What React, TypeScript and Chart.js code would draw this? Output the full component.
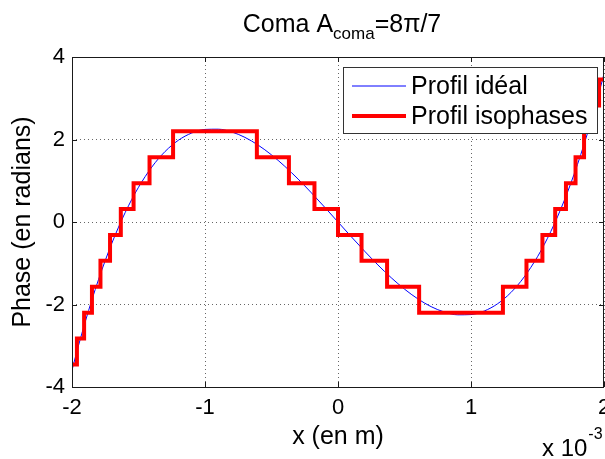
import { useEffect, useRef } from "react";
import { Chart, registerables } from "chart.js";

Chart.register(...registerables);

// Ideal coma profile (x in units of 1e-3 m, phase in rad)
const idealX = [
  -2.0, -1.95, -1.9, -1.85, -1.8, -1.75, -1.7, -1.65, -1.6, -1.55, -1.5, -1.4, -1.3, -1.2, -1.1, -1.0,
  -0.9, -0.8, -0.7, -0.6, -0.5, -0.4, -0.3, -0.2, -0.1, 0,
  0.1, 0.2, 0.3, 0.4, 0.5, 0.6, 0.7, 0.8, 0.9, 1.0, 1.1, 1.2, 1.3, 1.4, 1.5, 1.55, 1.6, 1.65, 1.7, 1.75,
  1.8, 1.85, 1.9, 1.95, 2.0,
];
const idealY = [
  -3.59, -2.982, -2.413, -1.883, -1.39, -0.933, -0.511, -0.124, 0.23, 0.551, 0.842, 1.332, 1.71, 1.982, 2.157, 2.244,
  2.25, 2.183, 2.052, 1.863, 1.627, 1.35, 1.041, 0.707, 0.358, 0,
  -0.358, -0.707, -1.041, -1.35, -1.627, -1.863, -2.052, -2.183, -2.25, -2.244, -2.157, -1.982, -1.71, -1.332, -0.842, -0.551, -0.23, 0.124, 0.511, 0.933,
  1.39, 1.883, 2.413, 2.982, 3.59,
];

// Isophase staircase: plateau edges and plateau levels
const stairEdges = [
  -2.0, -1.963, -1.909, -1.85, -1.786, -1.714, -1.633, -1.537, -1.417, -1.24, -0.61, -0.369, -0.177, 0,
  0.177, 0.369, 0.61, 1.24, 1.417, 1.537, 1.633, 1.714, 1.786, 1.85, 1.909, 1.963, 2.0,
];
const stairLevels = [
  -3.456, -2.827, -2.199, -1.571, -0.942, -0.314, 0.314, 0.942, 1.571, 2.199, 1.571, 0.942, 0.314,
  -0.314, -0.942, -1.571, -2.199, -1.571, -0.942, -0.314, 0.314, 0.942, 1.571, 2.199, 2.827, 3.456,
];

const xTicks = [-2, -1, 0, 1, 2];
const yTicks = [-4, -2, 0, 2, 4];
const titleMain = "Coma A";
const titleSub = "coma";
const titleEnd = "=8\u03c0/7";
const xLabel = "x (en m)";
const yLabel = "Phase (en radians)";
const xMultiplier = "x 10";
const xExponent = "-3";
const legendLabels = ["Profil idéal", "Profil isophases"];
const seriesColors = ["#0000ff", "#ff0000"];

const FONT = '"Liberation Sans", Arial, Helvetica, sans-serif';

const decorPlugin = {
  id: "decor",
  afterDatasetsDraw(chart: any) {
    const { ctx, chartArea } = chart;
    const { left, right, top, bottom } = chartArea;
    const xs = chart.scales.x;
    const ys = chart.scales.y;
    ctx.save();
    ctx.strokeStyle = "#1a1a1a";
    ctx.lineWidth = 1;
    ctx.setLineDash([]);
    ctx.strokeRect(Math.round(left) + 0.5, Math.round(top) + 0.5, Math.round(right - left) - 1, Math.round(bottom - top));
    const tl = 5;
    ctx.beginPath();
    xTicks.forEach((v) => {
      const px = Math.round(xs.getPixelForValue(v)) + 0.5;
      ctx.moveTo(px, bottom);
      ctx.lineTo(px, bottom - tl);
      ctx.moveTo(px, top);
      ctx.lineTo(px, top + tl);
    });
    yTicks.forEach((v) => {
      const py = Math.round(ys.getPixelForValue(v)) + 0.5;
      ctx.moveTo(left, py);
      ctx.lineTo(left + tl, py);
      ctx.moveTo(right, py);
      ctx.lineTo(right - tl, py);
    });
    ctx.stroke();
    ctx.restore();
  },
  afterDraw(chart: any) {
    const { ctx, chartArea } = chart;
    ctx.save();
    ctx.fillStyle = "#000";
    ctx.textBaseline = "alphabetic";
    ctx.textAlign = "left";
    // Title
    ctx.font = `25px ${FONT}`;
    const w1 = ctx.measureText(titleMain).width;
    const w3 = ctx.measureText(titleEnd).width;
    ctx.font = `17px ${FONT}`;
    const w2 = ctx.measureText(titleSub).width;
    const cx = (chartArea.left + chartArea.right) / 2 + 4;
    let tx = cx - (w1 + w2 + w3) / 2;
    const tb = 32;
    ctx.font = `25px ${FONT}`;
    ctx.fillText(titleMain, tx, tb);
    tx += w1;
    ctx.font = `17px ${FONT}`;
    ctx.fillText(titleSub, tx, tb + 7);
    tx += w2;
    ctx.font = `25px ${FONT}`;
    ctx.fillText(titleEnd, tx, tb);

    // x 10^-3
    ctx.font = `24px ${FONT}`;
    const mx = 542;
    ctx.fillText(xMultiplier, mx, 456);
    const mw = ctx.measureText(xMultiplier).width;
    ctx.font = `16px ${FONT}`;
    ctx.fillText(xExponent, mx + mw + 1, 439);

    // Legend
    const lx = 343.5, ly = 67.5, lw = 254, lh = 66;
    ctx.fillStyle = "#fff";
    ctx.fillRect(lx, ly, lw, lh);
    ctx.strokeStyle = "#333";
    ctx.lineWidth = 1;
    ctx.strokeRect(lx, ly, lw, lh);
    const rows = [86, 116];
    const widths = [1, 4];
    ctx.font = `25px ${FONT}`;
    ctx.textBaseline = "middle";
    legendLabels.forEach((lab, i) => {
      ctx.strokeStyle = seriesColors[i];
      ctx.lineWidth = widths[i];
      ctx.beginPath();
      ctx.moveTo(352, rows[i]);
      ctx.lineTo(406, rows[i]);
      ctx.stroke();
      ctx.fillStyle = "#000";
      ctx.fillText(lab, 411, rows[i] + 1);
    });
    ctx.restore();
  },
};

export default function App() {
  const ref = useRef<HTMLCanvasElement>(null);
  useEffect(() => {
    if (!ref.current) return;
    const idealData = idealX.map((x, i) => ({ x, y: idealY[i] }));
    const stairData: { x: number; y: number }[] = [];
    stairLevels.forEach((lv, i) => {
      stairData.push({ x: stairEdges[i], y: lv });
      stairData.push({ x: stairEdges[i + 1], y: lv });
    });
    const gridCommon = { color: "rgba(0,0,0,0.6)", lineWidth: 1, drawTicks: false };
    const chart = new Chart(ref.current, {
      type: "line",
      data: {
        datasets: [
          {
            label: legendLabels[1],
            data: stairData,
            borderColor: seriesColors[1],
            borderWidth: 4,
            pointRadius: 0,
            tension: 0,
            borderJoinStyle: "miter",
            order: 0,
          },
          {
            label: legendLabels[0],
            data: idealData,
            borderColor: seriesColors[0],
            borderWidth: 1,
            pointRadius: 0,
            cubicInterpolationMode: "monotone",
            order: 1,
          },
        ],
      },
      options: {
        animation: false,
        responsive: false,
        layout: { padding: { left: 0, right: 1, top: 57, bottom: 0 } },
        plugins: { legend: { display: false }, title: { display: false }, tooltip: { enabled: false } },
        scales: {
          x: {
            type: "linear",
            min: -2,
            max: 2,
            afterBuildTicks: (s: any) => {
              s.ticks = xTicks.map((v) => ({ value: v }));
            },
            ticks: { font: { family: FONT, size: 22 }, color: "#000", padding: 8, maxRotation: 0, autoSkip: false },
            grid: gridCommon,
            border: { display: false, dash: [1, 3] },
            title: { display: true, text: xLabel, color: "#000", font: { family: FONT, size: 25 }, padding: { top: 0, bottom: 7 } },
            afterFit: (s: any) => {
              s.height = 72;
              s.paddingLeft = 0;
              s.paddingRight = 0;
            },
          },
          y: {
            type: "linear",
            min: -4,
            max: 4,
            afterBuildTicks: (s: any) => {
              s.ticks = yTicks.map((v) => ({ value: v }));
            },
            ticks: { font: { family: FONT, size: 22 }, color: "#000", padding: 7 },
            grid: gridCommon,
            border: { display: false, dash: [1, 3] },
            title: { display: true, text: yLabel, color: "#000", font: { family: FONT, size: 25 }, padding: { top: 8, bottom: 0 } },
            afterFit: (s: any) => {
              s.width = 72;
              s.paddingTop = 0;
              s.paddingBottom = 0;
            },
          },
        },
      },
      plugins: [decorPlugin],
    } as any);
    return () => chart.destroy();
  }, []);
  return (
    <canvas
      ref={ref}
      width={605}
      height={459}
      style={{ position: "absolute", left: 0, top: 0, width: 605, height: 459, display: "block", background: "#fff" }}
    />
  );
}
